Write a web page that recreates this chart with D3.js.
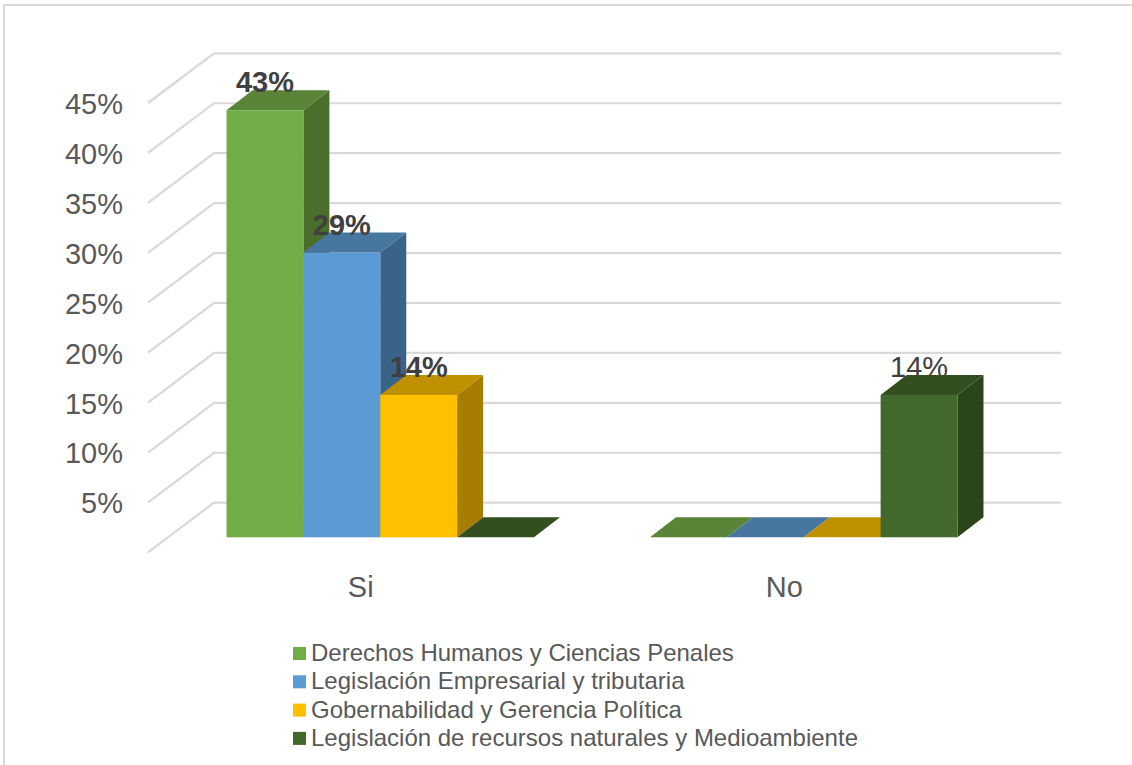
<!DOCTYPE html>
<html><head><meta charset="utf-8">
<script src="https://cdn.jsdelivr.net/npm/d3@7"></script>
<style>html,body{margin:0;padding:0;background:#fff;overflow:hidden}svg{display:block}text{font-family:"Liberation Sans",Arial,sans-serif}</style>
</head><body><div id="c"></div>
<script>
const categories = ["Si", "No"];
const seriesNames = ["Derechos Humanos y Ciencias Penales","Legislación Empresarial y tributaria","Gobernabilidad y Gerencia Política","Legislación de recursos naturales y Medioambiente"];
const derechos = [0.4286, 0];
const legislacion = [0.2857, 0];
const gobernabilidad = [0.1429, 0];
const recursos = [0, 0.1429];
const tickValues = [0.05,0.10,0.15,0.20,0.25,0.30,0.35,0.40,0.45];
const gridValues = [0,0.05,0.10,0.15,0.20,0.25,0.30,0.35,0.40,0.45];
const frontColors = ["#70ad47","#5b9bd5","#ffc000","#43682b"];
const topColors = ["#5a8437","#47769f","#bf9000","#334f20"];
const sideColors = ["#4b6e2c","#3a6389","#a67d00","#2a451a"];
const seriesValues = [derechos, legislacion, gobernabilidad, recursos];

const W=1132,H=765;
const svg=d3.select("#c").append("svg").attr("width",W).attr("height",H);
svg.append("rect").attr("x",4).attr("y",5).attr("width",W+10).attr("height",H+10).attr("fill","#fff").attr("stroke","#d9d9d9").attr("stroke-width",2);

// back wall / floor geometry
const wallX=[214,1061], wallDX=-66, wallDY=49.7;
const yBack=d3.scaleLinear().domain([0,0.45]).range([502.7,53.3]);
const yFront=d3.scaleLinear().domain([0,0.45]).range([502.7+wallDY,53.3+wallDY]);
const yBar=d3.scaleLinear().domain([0,0.45]).range([537.3,88.9]);
const x0=d3.scaleBand().domain(categories).range([168.5,1015.5]).paddingInner(0.274).paddingOuter(0.137);
const x1=d3.scaleBand().domain(d3.range(seriesNames.length)).range([0,x0.bandwidth()]);
const depthX=26, depthY=20;

const grid=svg.append("g").attr("stroke","#d9d9d9").attr("stroke-width",2.2).attr("fill","none");
grid.selectAll("path").data(gridValues).join("path")
  .attr("d",d=>`M${wallX[0]+wallDX},${yFront(d)}L${wallX[0]},${yBack(d)}L${wallX[1]},${yBack(d)}`);

const yAxis=svg.append("g").attr("transform","translate(148,0)")
  .call(d3.axisLeft(yFront).tickValues(tickValues).tickFormat(d3.format(".0%")).tickSize(0).tickPadding(25));
yAxis.select(".domain").remove();
yAxis.selectAll("text").attr("font-size",29).attr("fill","#595959").attr("font-family",'"Liberation Sans",Arial,sans-serif').attr("dy","0.36em");

const xAxisScale=x0.copy().range([149,996]);
const xAxis=svg.append("g").attr("transform","translate(0,552)")
  .call(d3.axisBottom(xAxisScale).tickSize(0).tickPadding(24));
xAxis.select(".domain").remove();
xAxis.selectAll("text").attr("font-size",29).attr("fill","#595959").attr("font-family",'"Liberation Sans",Arial,sans-serif');

const marks=[];
seriesValues.forEach((vals,s)=>vals.forEach((v,c)=>marks.push({s,c,v})));
const fmt=d3.format(".0%");
function bx(d){return x0(categories[d.c])+x1(d.s);}
const label=(sel)=>sel.attr("x",d=>bx(d)+x1.bandwidth()/2).attr("y",d=>yBar(d.v)-18)
  .attr("text-anchor","middle").attr("font-size",29).attr("fill","#404040").text(d=>fmt(d.v));

// labels of the second category lie behind the bars
svg.append("g").selectAll("text").data(marks.filter(d=>d.v>0&&d.c===1)).join("text").call(label);

const bars=svg.append("g");
marks.forEach(d=>{
  const g=bars.append("g"), x=bx(d), w=x1.bandwidth(), y=yBar(d.v), b=yBar(0);
  if(d.v>0){
    g.append("path").attr("fill",sideColors[d.s]).attr("d",`M${x+w},${y}L${x+w+depthX},${y-depthY}L${x+w+depthX},${b-depthY}L${x+w},${b}Z`);
  }
  g.append("path").attr("fill",topColors[d.s]).attr("d",`M${x},${y}L${x+depthX},${y-depthY}L${x+w+depthX},${y-depthY}L${x+w},${y}Z`);
});
// front faces sit above neighbouring top/side faces
marks.filter(d=>d.v>0).forEach(d=>{
  bars.append("rect").attr("x",bx(d)).attr("y",yBar(d.v)).attr("width",x1.bandwidth()).attr("height",yBar(0)-yBar(d.v)).attr("fill",frontColors[d.s]);
});

svg.append("g").selectAll("text").data(marks.filter(d=>d.v>0&&d.c===0)).join("text").call(label)
  .attr("font-weight","bold");

const lg=svg.append("g").attr("transform","translate(293,647)");
const row=lg.selectAll("g").data(seriesNames).join("g").attr("transform",(d,i)=>`translate(0,${i*28.3})`);
row.append("rect").attr("width",13).attr("height",13).attr("fill",(d,i)=>frontColors[i]);
row.append("text").attr("x",18).attr("y",14).attr("font-size",24).attr("fill","#595959").text(d=>d);
</script></body></html>
